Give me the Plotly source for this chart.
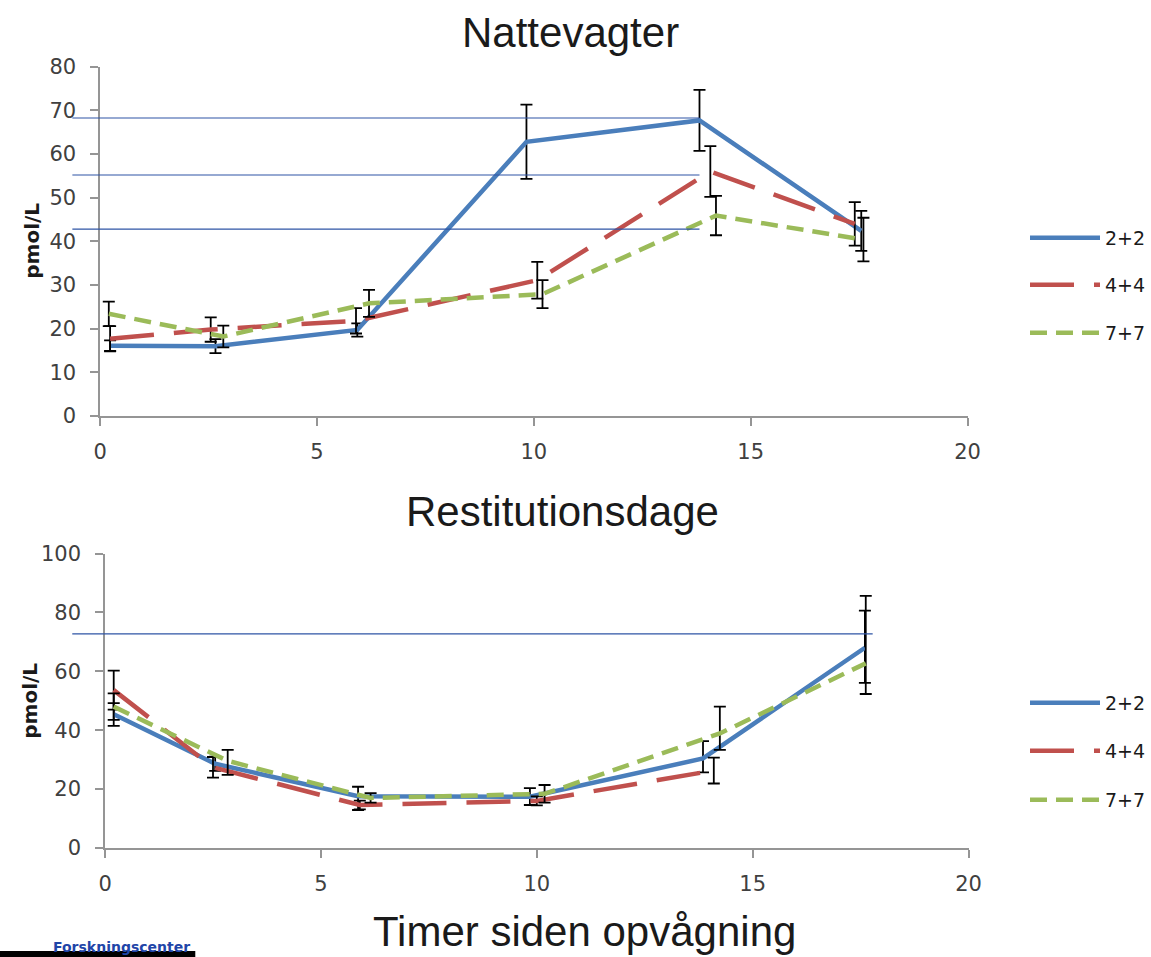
import plotly.graph_objects as go

W, H = 1151, 957

# ---- data: hours since waking vs. concentration (pmol/L) ----
series_names = ["2+2", "4+4", "7+7"]
series_colors = ["#4A7EBB", "#C0504D", "#9BBB59"]
series_dash = ["solid", "44px,20px", "17px,9px"]

# Night shifts
night_x_22 = [0.23, 2.66, 5.93, 9.83, 13.82, 17.55]
night_y_22 = [16.1, 16.0, 19.7, 62.8, 67.7, 42.4]
night_e_22 = [1.2, 1.6, 1.5, 8.5, 7.0, 4.6]

night_x_44 = [0.23, 2.55, 5.9, 10.08, 14.07, 17.4]
night_y_44 = [17.7, 19.8, 21.8, 31.1, 56.0, 44.0]
night_e_44 = [2.9, 2.8, 2.9, 4.2, 5.8, 5.0]

night_x_77 = [0.2, 2.84, 6.2, 10.2, 14.2, 17.6]
night_y_77 = [23.4, 18.2, 25.8, 27.9, 45.9, 40.4]
night_e_77 = [2.8, 2.5, 3.1, 3.2, 4.5, 5.0]

# Recovery days
rest_x_22 = [0.2, 2.55, 5.86, 9.84, 13.85, 17.6]
rest_y_22 = [45.4, 28.6, 17.6, 17.4, 30.4, 68.0]
rest_ep_22 = [3.8, 2.4, 3.2, 2.9, 5.9, 12.6]
rest_em_22 = [3.9, 2.4, 4.7, 2.8, 4.7, 11.9]

rest_x_44 = [0.2, 2.5, 5.9, 10.0, 14.1]
rest_y_44 = [53.6, 27.4, 14.6, 16.0, 26.3]
rest_ep_44 = [6.6, 3.5, 1.5, 1.5, 4.4]
rest_em_44 = [6.6, 3.5, 1.5, 1.5, 4.4]

rest_x_77 = [0.2, 2.84, 6.15, 10.18, 14.24, 17.62]
rest_y_77 = [48.0, 29.6, 17.0, 18.4, 38.9, 62.7]
rest_ep_77 = [4.5, 3.7, 1.6, 3.0, 9.1, 22.9]
rest_em_77 = [4.5, 4.8, 1.6, 3.0, 5.6, 10.4]

# reference levels (horizontal guide lines)
night_levels = [68.25, 55.2, 42.8]
rest_levels = [72.7]

x_ticks = [0, 5, 10, 15, 20]
night_y_ticks = [0, 10, 20, 30, 40, 50, 60, 70, 80]
rest_y_ticks = [0, 20, 40, 60, 80, 100]

titles = ["Nattevagter", "Restitutionsdage"]
x_title = "Timer siden opvågning"
y_title = "pmol/L"
footer = "Forskningscenter"


def px_x(p):
    return p / W


def px_y(p):
    return 1 - p / H


fig = go.Figure()

night = [
    (night_x_22, night_y_22, night_e_22, night_e_22),
    (night_x_44, night_y_44, night_e_44, night_e_44),
    (night_x_77, night_y_77, night_e_77, night_e_77),
]
rest = [
    (rest_x_22, rest_y_22, rest_ep_22, rest_em_22),
    (rest_x_44, rest_y_44, rest_ep_44, rest_em_44),
    (rest_x_77, rest_y_77, rest_ep_77, rest_em_77),
]

legend_rows = {"x": [238, 285, 333], "x2": [703, 751, 800]}

legend_id = 0
for axis_x, axis_y, block in (("x", "y", night), ("x2", "y2", rest)):
    for i, (xs, ys, ep, em) in enumerate(block):
        legend_id += 1
        lname = "legend" if legend_id == 1 else f"legend{legend_id}"
        fig.add_trace(go.Scatter(
            x=xs, y=ys, name=series_names[i], mode="lines",
            xaxis=axis_x, yaxis=axis_y,
            line=dict(color=series_colors[i], width=4.5, dash=series_dash[i]),
            error_y=dict(type="data", array=ep, arrayminus=em, symmetric=False,
                         color="black", thickness=1.8, width=6),
            legend=lname, showlegend=True,
        ))
        row_y = legend_rows[axis_x][i]
        fig.update_layout(**{lname: dict(
            x=px_x(1034), y=px_y(row_y), xanchor="left", yanchor="middle",
            bgcolor="rgba(0,0,0,0)", borderwidth=0, itemwidth=70,
            font=dict(family="DejaVu Sans", size=19, color="#1a1a1a"),
        )})

axis_common = dict(
    showline=True, linecolor="#959595", linewidth=1.6,
    ticks="outside", tickcolor="#959595", ticklen=8, tickwidth=1.6,
    showgrid=False, zeroline=False, automargin=False,
    tickfont=dict(family="DejaVu Sans", size=21, color="#404040"),
)

fig.update_layout(
    width=W, height=H,
    margin=dict(l=0, r=0, t=0, b=0),
    paper_bgcolor="white", plot_bgcolor="white",
    xaxis=dict(axis_common, domain=[px_x(101), px_x(976)], range=[0, 20],
               tickvals=x_ticks, anchor="y", ticklabelstandoff=8),
    yaxis=dict(axis_common, domain=[px_y(416), px_y(66.7)], range=[0, 80],
               tickvals=night_y_ticks, anchor="x", ticklabelstandoff=10),
    xaxis2=dict(axis_common, domain=[px_x(106), px_x(977)], range=[0, 20],
                tickvals=x_ticks, anchor="y2", ticklabelstandoff=8),
    yaxis2=dict(axis_common, domain=[px_y(848), px_y(553.5)], range=[0, 100],
                tickvals=rest_y_ticks, anchor="x2", ticklabelstandoff=10),
)

# horizontal guide lines (start a little left of the axis)
shapes = []
for lv in night_levels:
    shapes.append(dict(type="line", xref="x domain", yref="y",
                       x0=-0.032, x1=0.691, y0=lv, y1=lv,
                       line=dict(color="#2E55A5", width=1.2)))
for lv in rest_levels:
    shapes.append(dict(type="line", xref="x2 domain", yref="y2",
                       x0=-0.038, x1=0.889, y0=lv, y1=lv,
                       line=dict(color="#2E55A5", width=1.2)))
# dark strip at the lower-left edge
shapes.append(dict(type="rect", xref="paper", yref="paper",
                   x0=0, x1=px_x(197), y0=0, y1=px_y(951),
                   fillcolor="black", line=dict(width=0), layer="below"))
fig.update_layout(shapes=shapes)

annotations = [
    dict(text=titles[0], x=px_x(575), y=px_y(33), xref="paper", yref="paper",
         showarrow=False, xanchor="center", yanchor="middle",
         font=dict(family="Liberation Sans", size=42, color="#1a1a1a")),
    dict(text=titles[1], x=px_x(567), y=px_y(511), xref="paper", yref="paper",
         showarrow=False, xanchor="center", yanchor="middle",
         font=dict(family="Liberation Sans", size=42, color="#1a1a1a")),
    dict(text=x_title, x=px_x(590), y=px_y(931), xref="paper", yref="paper",
         showarrow=False, xanchor="center", yanchor="middle",
         font=dict(family="Liberation Sans", size=42, color="#1a1a1a")),
    dict(text="<b>" + y_title + "</b>", x=px_x(32), y=px_y(241), xref="paper", yref="paper",
         showarrow=False, xanchor="center", yanchor="middle", textangle=-90,
         font=dict(family="DejaVu Sans", size=20, color="#1a1a1a")),
    dict(text="<b>" + y_title + "</b>", x=px_x(30), y=px_y(701), xref="paper", yref="paper",
         showarrow=False, xanchor="center", yanchor="middle", textangle=-90,
         font=dict(family="DejaVu Sans", size=20, color="#1a1a1a")),
    dict(text="<b>" + footer + "</b>", x=px_x(194), y=px_y(957), xref="paper", yref="paper",
         showarrow=False, xanchor="right", yanchor="bottom",
         font=dict(family="DejaVu Sans", size=14, color="#1F45A8")),
]
fig.update_layout(annotations=annotations)

fig.write_html("out.html")
